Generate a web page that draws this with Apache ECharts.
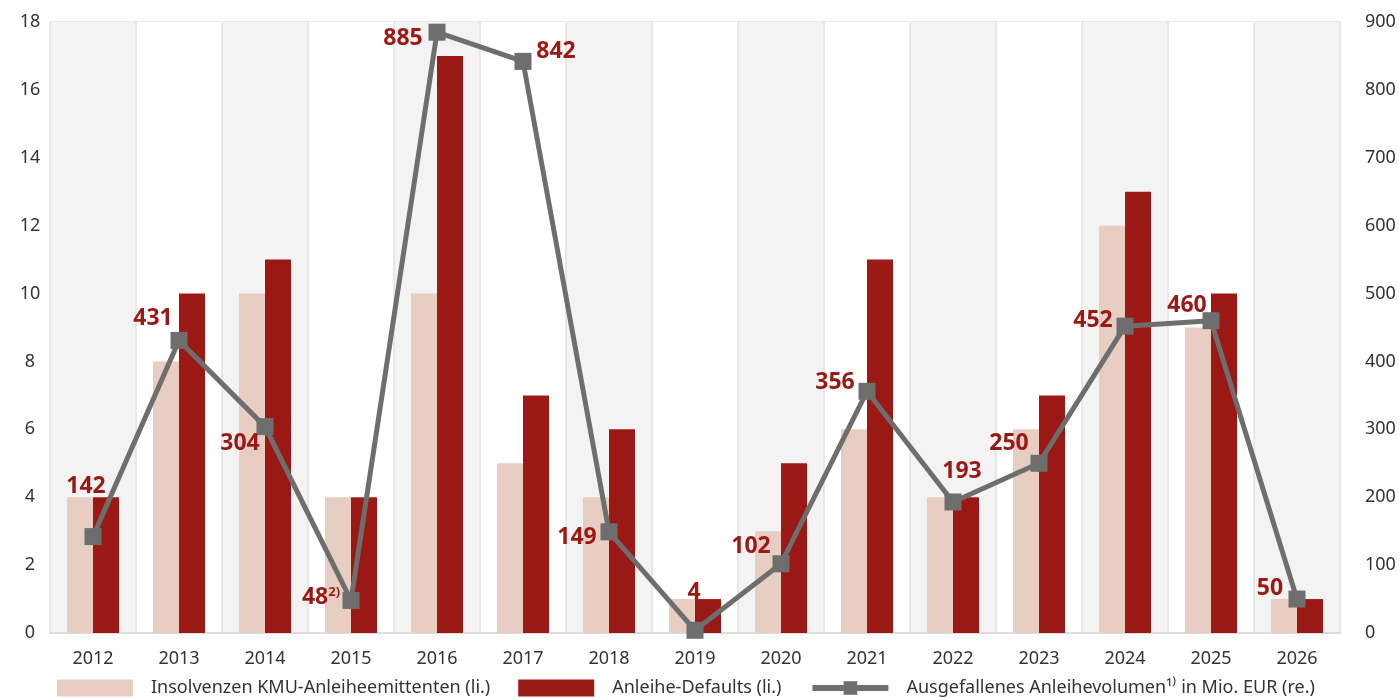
<!DOCTYPE html>
<html><head><meta charset="utf-8">
<script src="https://cdn.jsdelivr.net/npm/echarts@6/dist/echarts.min.js"></script>
<style>html,body{margin:0;padding:0;background:#fff}#c{width:1399px;height:699px}</style>
</head><body><div id="c"></div>
<script>
const years = ['2012','2013','2014','2015','2016','2017','2018','2019','2020','2021','2022','2023','2024','2025','2026'];
const insolvenzen = [4,8,10,4,10,5,4,1,3,6,4,6,12,9,1];
const defaults = [4,10,11,4,17,7,6,1,5,11,4,7,13,10,1];
const volumen = [142,431,304,48,885,842,149,4,102,356,193,250,452,460,50];
const volumenLabels = ['142','431','304','48{s|2)}','885','842','149','4','102','356','193','250','452','460','50'];
const leftTicks = [0,2,4,6,8,10,12,14,16,18];
const rightTicks = [0,100,200,300,400,500,600,700,800,900];

// label offsets from the marker centre (styling)
const labelOffsets = [[-7,-50],[-26,-22],[-25,17],[-30,-3],[-34,6],[33,-10],[-32,6],[-1,-38],[-30,-17],[-32,-9],[9,-31],[-30,-20],[-32,-6],[-24,-15],[-27,-11]];

const RED = '#9b1915';
const PINK = '#e8cdc3';
const GRAY = '#6e6e6e';
const FONT = '"Noto Sans",sans-serif';

const lineData = volumen.map((v,i)=>({
  value:v,
  label:{show:true, position:'inside', offset:labelOffsets[i], formatter: volumenLabels[i]}
}));

const chart = echarts.init(document.getElementById('c'));
chart.setOption({
  animation:false,
  grid:{left:50,right:59,top:22,bottom:66},
  legend:{
    bottom:-3, left:52, width:1345, itemWidth:76, itemHeight:17, itemGap:28,
    textStyle:{fontFamily:FONT, fontSize:18, color:'#333', padding:[0,0,0,13]},
    data:[
      {name:'Insolvenzen KMU-Anleiheemittenten (li.)', icon:'rect'},
      {name:'Anleihe-Defaults (li.)', icon:'rect'},
      {name:'Ausgefallenes Anleihevolumen¹⁾ in Mio. EUR (re.)', lineStyle:{width:6, color:GRAY}}
    ]
  },
  xAxis:{
    type:'category', data:years,
    axisLine:{show:true, lineStyle:{color:'#dcdcdc', width:2}},
    axisTick:{show:false},
    axisLabel:{fontFamily:FONT, fontSize:18, color:'#333', margin:17},
    splitLine:{show:true, lineStyle:{color:'#e2e2e2', width:1.5}},
    splitArea:{show:true, areaStyle:{color:['#f3f3f3','#ffffff']}}
  },
  yAxis:[
    {type:'value', min:0, max:18, interval:2,
     axisLine:{show:false}, axisTick:{show:false},
     axisLabel:{fontFamily:FONT, fontSize:18, color:'#333', margin:20, align:'center',
       formatter:v=>leftTicks.includes(v)?String(v):''},
     splitLine:{show:true, lineStyle:{color:'#e2e2e2', width:1.5}}},
    {type:'value', min:0, max:900, interval:100,
     axisLine:{show:false}, axisTick:{show:false},
     axisLabel:{fontFamily:FONT, fontSize:18, color:'#333', margin:25,
       formatter:v=>rightTicks.includes(v)?String(v):''},
     splitLine:{show:false}}
  ],
  series:[
    {name:'Insolvenzen KMU-Anleiheemittenten (li.)', type:'bar', data:insolvenzen,
     barWidth:26, barGap:'0%', itemStyle:{color:PINK}},
    {name:'Anleihe-Defaults (li.)', type:'bar', data:defaults,
     barWidth:26, barGap:'0%', itemStyle:{color:RED}},
    {name:'Ausgefallenes Anleihevolumen¹⁾ in Mio. EUR (re.)', type:'line', yAxisIndex:1,
     data:lineData, symbol:'rect', symbolSize:17, z:5,
     lineStyle:{color:GRAY, width:5}, itemStyle:{color:GRAY},
     label:{color:RED, fontFamily:FONT, fontWeight:'bold', fontSize:23,
       rich:{s:{fontFamily:FONT, fontWeight:'bold', fontSize:13, color:RED, verticalAlign:'top', padding:[0,0,10,0]}}}}
  ]
});
</script></body></html>
